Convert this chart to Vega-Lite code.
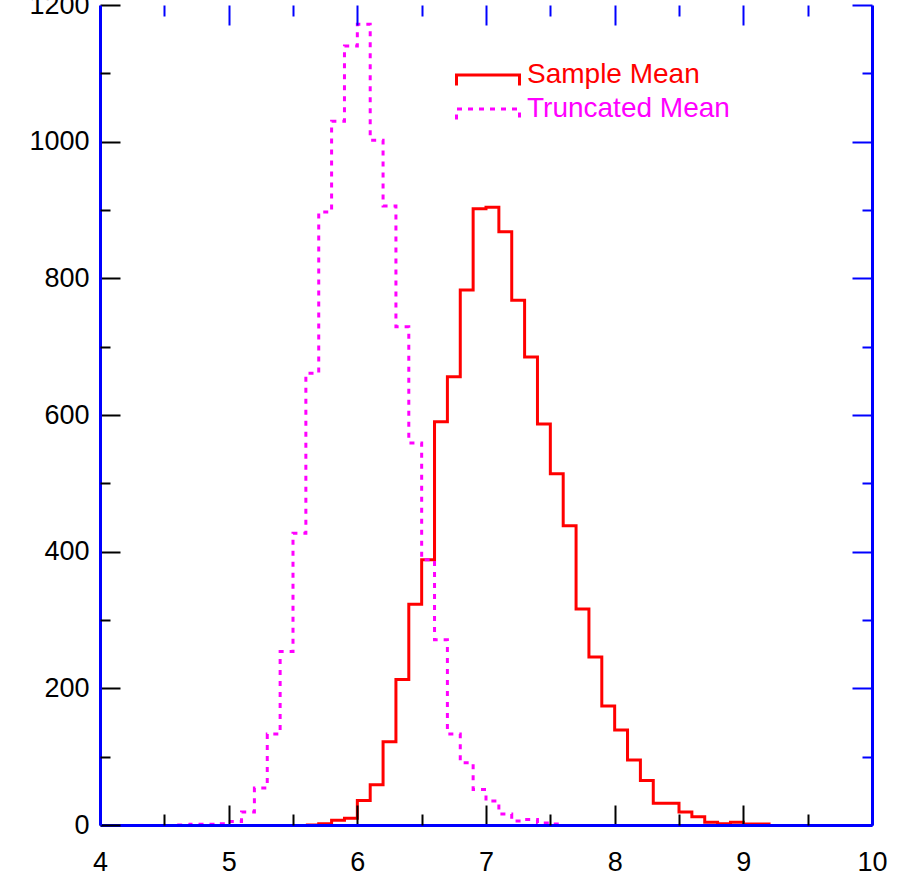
{
  "$schema": "https://vega.github.io/schema/vega-lite/v6.json",
  "width": 772,
  "height": 820,
  "autosize": {"type": "none"},
  "padding": {"left": 100, "top": 5, "right": 30, "bottom": 61},
  "background": "white",
  "config": {"view": {"stroke": null}, "font": "Liberation Sans", "axis": {"grid": false, "title": null}},
  "data": {"values": [
    {"x": 5.6, "count": 0, "series": "Sample Mean"},
    {"x": 5.7, "count": 2, "series": "Sample Mean"},
    {"x": 5.8, "count": 7, "series": "Sample Mean"},
    {"x": 5.9, "count": 10, "series": "Sample Mean"},
    {"x": 6.0, "count": 36, "series": "Sample Mean"},
    {"x": 6.1, "count": 59, "series": "Sample Mean"},
    {"x": 6.2, "count": 122, "series": "Sample Mean"},
    {"x": 6.3, "count": 213, "series": "Sample Mean"},
    {"x": 6.4, "count": 323, "series": "Sample Mean"},
    {"x": 6.5, "count": 388, "series": "Sample Mean"},
    {"x": 6.6, "count": 590, "series": "Sample Mean"},
    {"x": 6.7, "count": 656, "series": "Sample Mean"},
    {"x": 6.8, "count": 783, "series": "Sample Mean"},
    {"x": 6.9, "count": 902, "series": "Sample Mean"},
    {"x": 7.0, "count": 904, "series": "Sample Mean"},
    {"x": 7.1, "count": 868, "series": "Sample Mean"},
    {"x": 7.2, "count": 768, "series": "Sample Mean"},
    {"x": 7.3, "count": 685, "series": "Sample Mean"},
    {"x": 7.4, "count": 587, "series": "Sample Mean"},
    {"x": 7.5, "count": 514, "series": "Sample Mean"},
    {"x": 7.6, "count": 438, "series": "Sample Mean"},
    {"x": 7.7, "count": 316, "series": "Sample Mean"},
    {"x": 7.8, "count": 246, "series": "Sample Mean"},
    {"x": 7.9, "count": 174, "series": "Sample Mean"},
    {"x": 8.0, "count": 139, "series": "Sample Mean"},
    {"x": 8.1, "count": 95, "series": "Sample Mean"},
    {"x": 8.2, "count": 65, "series": "Sample Mean"},
    {"x": 8.3, "count": 32, "series": "Sample Mean"},
    {"x": 8.4, "count": 32, "series": "Sample Mean"},
    {"x": 8.5, "count": 19, "series": "Sample Mean"},
    {"x": 8.6, "count": 12, "series": "Sample Mean"},
    {"x": 8.7, "count": 4, "series": "Sample Mean"},
    {"x": 8.8, "count": 2, "series": "Sample Mean"},
    {"x": 8.9, "count": 4, "series": "Sample Mean"},
    {"x": 9.0, "count": 1.5, "series": "Sample Mean"},
    {"x": 9.1, "count": 1.5, "series": "Sample Mean"},
    {"x": 9.2, "count": 0, "series": "Sample Mean"},
    {"x": 4.6, "count": 0, "series": "Truncated Mean"},
    {"x": 4.7, "count": 1, "series": "Truncated Mean"},
    {"x": 4.8, "count": 1, "series": "Truncated Mean"},
    {"x": 4.9, "count": 2, "series": "Truncated Mean"},
    {"x": 5.0, "count": 5, "series": "Truncated Mean"},
    {"x": 5.1, "count": 19, "series": "Truncated Mean"},
    {"x": 5.2, "count": 54, "series": "Truncated Mean"},
    {"x": 5.3, "count": 133, "series": "Truncated Mean"},
    {"x": 5.4, "count": 254, "series": "Truncated Mean"},
    {"x": 5.5, "count": 427, "series": "Truncated Mean"},
    {"x": 5.6, "count": 661, "series": "Truncated Mean"},
    {"x": 5.7, "count": 897, "series": "Truncated Mean"},
    {"x": 5.8, "count": 1030, "series": "Truncated Mean"},
    {"x": 5.9, "count": 1140, "series": "Truncated Mean"},
    {"x": 6.0, "count": 1172, "series": "Truncated Mean"},
    {"x": 6.1, "count": 1002, "series": "Truncated Mean"},
    {"x": 6.2, "count": 906, "series": "Truncated Mean"},
    {"x": 6.3, "count": 729, "series": "Truncated Mean"},
    {"x": 6.4, "count": 559, "series": "Truncated Mean"},
    {"x": 6.5, "count": 388, "series": "Truncated Mean"},
    {"x": 6.6, "count": 271, "series": "Truncated Mean"},
    {"x": 6.7, "count": 133, "series": "Truncated Mean"},
    {"x": 6.8, "count": 91, "series": "Truncated Mean"},
    {"x": 6.9, "count": 52, "series": "Truncated Mean"},
    {"x": 7.0, "count": 35, "series": "Truncated Mean"},
    {"x": 7.1, "count": 16, "series": "Truncated Mean"},
    {"x": 7.2, "count": 6, "series": "Truncated Mean"},
    {"x": 7.3, "count": 8, "series": "Truncated Mean"},
    {"x": 7.4, "count": 3, "series": "Truncated Mean"},
    {"x": 7.5, "count": 1.5, "series": "Truncated Mean"},
    {"x": 7.6, "count": 0, "series": "Truncated Mean"}
  ]},
  "resolve": {"axis": {"x": "independent", "y": "independent"}},
  "layer": [
    {
      "mark": {"type": "line", "interpolate": "step-after", "strokeWidth": 3},
      "encoding": {
        "x": {"field": "x", "type": "quantitative", "scale": {"domain": [4, 10], "nice": false, "zero": false},
          "axis": {"orient": "bottom", "values": [4, 5, 6, 7, 8, 9, 10], "format": "d", "domain": true, "domainColor": "#0000ff", "domainWidth": 3, "ticks": true, "tickColor": "#000000", "tickWidth": 2, "tickSize": -20, "labelFontSize": 27, "labelFont": "Liberation Sans", "labelColor": "#000000", "labelPadding": 44, "labelFlush": false, "labelOverlap": false, "grid": false, "title": null, "zindex": 1}},
        "y": {"field": "count", "type": "quantitative", "scale": {"domain": [0, 1200], "nice": false},
          "axis": {"orient": "left", "values": [0, 200, 400, 600, 800, 1000, 1200], "format": "d", "domain": true, "domainColor": "#0000ff", "domainWidth": 3, "ticks": true, "tickColor": "#000000", "tickWidth": 2, "tickSize": -20, "labelFontSize": 27, "labelFont": "Liberation Sans", "labelColor": "#000000", "labelPadding": 31, "labelFlush": false, "labelOverlap": false, "grid": false, "title": null, "zindex": 1}},
        "color": {"field": "series", "type": "nominal",
          "scale": {"domain": ["Sample Mean", "Truncated Mean"], "range": ["#ff0000", "#ff00ff"]},
          "legend": {"orient": "none", "legendX": 374, "legendY": 56, "title": null, "labelFontSize": 28, "labelFont": "Liberation Sans", "labelLimit": 500, "symbolType": "M-3,1L-3,0L3,0L3,1", "symbolSize": 441, "symbolStrokeWidth": 3, "labelOffset": 25, "rowPadding": 3, "padding": 0, "symbolFillColor": "transparent",
            "encode": {"labels": {"update": {"fill": {"scale": "color", "field": "value"}}}}}},
        "strokeDash": {"field": "series", "type": "nominal",
          "scale": {"domain": ["Sample Mean", "Truncated Mean"], "range": [[1, 0], [5, 6]]},
          "legend": {"orient": "none", "legendX": 374, "legendY": 56, "title": null, "labelFontSize": 28, "labelFont": "Liberation Sans", "labelLimit": 500, "symbolType": "M-3,1L-3,0L3,0L3,1", "symbolSize": 441, "symbolStrokeWidth": 3, "labelOffset": 25, "rowPadding": 3, "padding": 0, "symbolFillColor": "transparent",
            "encode": {"labels": {"update": {"fill": {"scale": "color", "field": "value"}}}}}}
      }
    },
    {
      "mark": {"type": "point", "opacity": 0},
      "encoding": {
        "x": {"field": "x", "type": "quantitative", "scale": {"domain": [4, 10], "nice": false, "zero": false},
          "axis": {"orient": "bottom", "values": [4.5, 5.5, 6.5, 7.5, 8.5, 9.5], "domain": false, "labels": false, "ticks": true, "tickColor": "#000000", "tickWidth": 2, "tickSize": -11, "grid": false, "title": null, "zindex": 1}},
        "y": {"field": "count", "type": "quantitative", "scale": {"domain": [0, 1200], "nice": false},
          "axis": {"orient": "left", "values": [100, 300, 500, 700, 900, 1100], "domain": false, "labels": false, "ticks": true, "tickColor": "#000000", "tickWidth": 2, "tickSize": -10, "grid": false, "title": null, "zindex": 1}}
      }
    },
    {
      "mark": {"type": "point", "opacity": 0},
      "encoding": {
        "x": {"field": "x", "type": "quantitative", "scale": {"domain": [4, 10], "nice": false, "zero": false},
          "axis": {"orient": "top", "values": [5, 6, 7, 8, 9], "domain": false, "labels": false, "ticks": true, "tickColor": "#0000ff", "tickWidth": 2, "tickSize": -20, "grid": false, "title": null, "zindex": 1}},
        "y": {"field": "count", "type": "quantitative", "scale": {"domain": [0, 1200], "nice": false},
          "axis": {"orient": "right", "values": [0, 200, 400, 600, 800, 1000, 1200], "domain": true, "domainColor": "#0000ff", "domainWidth": 3, "labels": false, "ticks": true, "tickColor": "#0000ff", "tickWidth": 2, "tickSize": -20, "grid": false, "title": null, "zindex": 1}}
      }
    },
    {
      "mark": {"type": "point", "opacity": 0},
      "encoding": {
        "x": {"field": "x", "type": "quantitative", "scale": {"domain": [4, 10], "nice": false, "zero": false},
          "axis": {"orient": "top", "values": [4.5, 5.5, 6.5, 7.5, 8.5, 9.5], "domain": false, "labels": false, "ticks": true, "tickColor": "#0000ff", "tickWidth": 2, "tickSize": -11, "grid": false, "title": null, "zindex": 1}},
        "y": {"field": "count", "type": "quantitative", "scale": {"domain": [0, 1200], "nice": false},
          "axis": {"orient": "right", "values": [100, 300, 500, 700, 900, 1100], "domain": false, "labels": false, "ticks": true, "tickColor": "#0000ff", "tickWidth": 2, "tickSize": -10, "grid": false, "title": null, "zindex": 1}}
      }
    }
  ]
}
